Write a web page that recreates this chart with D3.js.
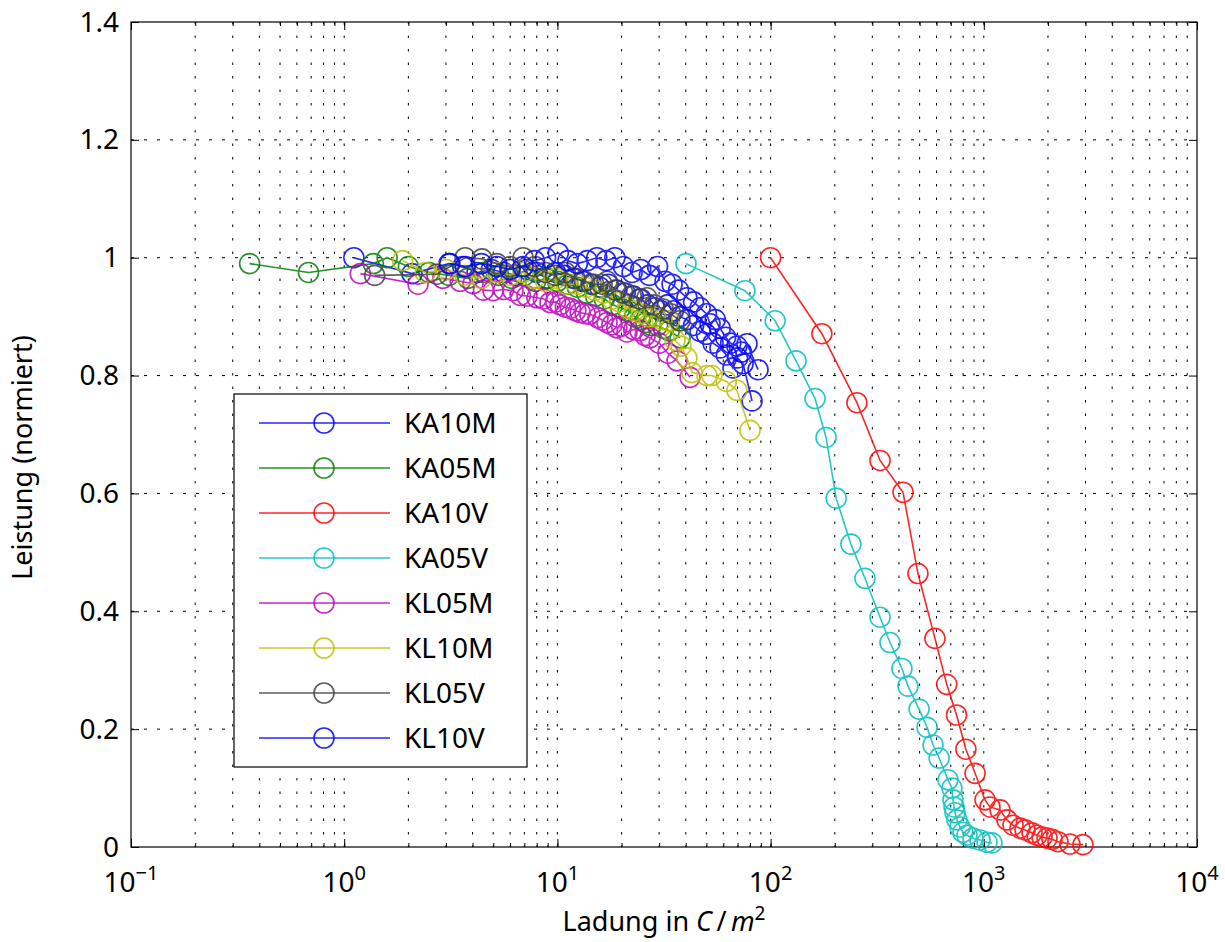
<!DOCTYPE html>
<html>
<head>
<meta charset="utf-8">
<script src="https://cdnjs.cloudflare.com/ajax/libs/d3/7.8.5/d3.min.js"></script>
<style>
    body { margin: 0; background: #fff; }
    text { font-family: "Noto Sans", sans-serif; fill: #000; }
</style>
</head>
<body>
<div id="chart"></div>
<script>
// series names and colours (legend order = draw order)
var names = ["KA10M", "KA05M", "KA10V", "KA05V", "KL05M", "KL10M", "KL05V", "KL10V"]
var colors = ["#0000ff", "#008000", "#ff0000", "#00bfbf", "#bf00bf", "#bfbf00", "#404040", "#0000ff"]

// [Ladung C/m^2, Leistung normiert]
var KA10M = [[1.11, 1.0], [2.08, 0.973], [3.1, 0.99], [3.6, 0.985], [4.2, 0.975], [4.9, 0.98], [5.6, 0.975], [6.4, 0.97],
    [7.2, 0.98], [8.0, 0.975], [8.9, 0.965], [9.8, 0.975], [10.8, 0.97], [11.9, 0.965], [13.1, 0.96], [14.4, 0.955],
    [15.8, 0.95], [17.3, 0.955], [19.0, 0.945], [20.8, 0.94], [22.7, 0.935], [24.6, 0.93], [26.5, 0.92], [28.5, 0.915],
    [30.6, 0.91], [32.8, 0.92], [35.0, 0.91], [37.5, 0.9], [40.5, 0.895], [43.5, 0.885], [46.7, 0.875], [50, 0.87],
    [53.7, 0.855], [57.9, 0.847], [62, 0.835], [66.6, 0.813], [70, 0.83], [74.3, 0.82], [81.8, 0.757]]
var KA05M = [[0.36, 0.99], [0.68, 0.975], [1.37, 0.99], [1.59, 1.0], [2.0, 0.985], [2.5, 0.975], [3.1, 0.97], [3.8, 0.965],
    [4.5, 0.975], [5.3, 0.97], [6.1, 0.965], [7.0, 0.97], [7.9, 0.96], [8.9, 0.965], [10.0, 0.96], [11.2, 0.955],
    [12.4, 0.95], [13.7, 0.94], [15.1, 0.935], [16.6, 0.93], [18.2, 0.92], [19.8, 0.915], [21.5, 0.91], [23.0, 0.9],
    [24.5, 0.895], [26, 0.89], [27.5, 0.885], [29.5, 0.885], [31.5, 0.88], [33.5, 0.876], [37.6, 0.864]]
var KA10V = [[100, 1.0], [174, 0.871], [254, 0.754], [326, 0.656], [418, 0.602], [491, 0.464], [590, 0.354], [670, 0.276],
    [745, 0.224], [824, 0.166], [910, 0.125], [1013, 0.08], [1069, 0.068], [1191, 0.063], [1285, 0.046], [1371, 0.037],
    [1479, 0.032], [1561, 0.029], [1683, 0.024], [1778, 0.02], [1876, 0.017], [1979, 0.015], [2089, 0.013], [2228, 0.009],
    [2535, 0.005], [2918, 0.004]]
var KA05V = [[40.1, 0.99], [75.8, 0.944], [105, 0.893], [131.6, 0.825], [161.6, 0.761], [182, 0.695], [203, 0.592], [238, 0.514],
    [277, 0.456], [326, 0.39], [363, 0.347], [413, 0.303], [441, 0.273], [497, 0.234], [542, 0.203], [578, 0.173],
    [617, 0.151], [679, 0.114], [709, 0.1], [717, 0.08], [725, 0.068], [733, 0.058], [749, 0.046], [773, 0.034],
    [798, 0.025], [834, 0.02], [889, 0.015], [960, 0.012], [1035, 0.008], [1092, 0.007]]
var KL05M = [[1.19, 0.973], [2.22, 0.955], [2.9, 0.965], [3.5, 0.96], [4.02, 0.956], [4.5, 0.945], [4.99, 0.944], [5.6, 0.946],
    [6.19, 0.944], [6.7, 0.936], [7.2, 0.935], [8.02, 0.932], [8.6, 0.93], [9.23, 0.924], [9.8, 0.925], [10.3, 0.92],
    [10.9, 0.916], [11.5, 0.914], [12.2, 0.91], [12.8, 0.907], [13.5, 0.905], [14.2, 0.904], [15.5, 0.898], [16.3, 0.894],
    [17.1, 0.89], [18, 0.886], [19, 0.881], [20, 0.884], [21.2, 0.874], [22.8, 0.878], [24.4, 0.876], [25.8, 0.868],
    [27.2, 0.864], [30, 0.855], [33, 0.838], [36.4, 0.825], [41.9, 0.797]]
var KL10M = [[1.88, 0.995], [2.4, 0.975], [3.0, 0.98], [3.7, 0.97], [4.4, 0.965], [5.2, 0.975], [6.0, 0.97], [6.9, 0.975],
    [7.8, 0.965], [8.8, 0.96], [9.9, 0.965], [11.0, 0.955], [12.3, 0.955], [13.6, 0.95], [15.0, 0.945], [16.5, 0.94],
    [18.0, 0.93], [19.6, 0.925], [21.3, 0.915], [23.0, 0.91], [24.8, 0.905], [26.7, 0.9], [28.8, 0.9], [31, 0.895],
    [33.5, 0.893], [35.6, 0.86], [38, 0.85], [40.5, 0.83], [42.8, 0.805], [50.3, 0.8], [53, 0.8], [62, 0.79],
    [69.5, 0.775], [80, 0.707]]
var KL05V = [[1.39, 0.97], [2.72, 0.972], [3.69, 1.0], [4.43, 0.998], [5.2, 0.99], [6.0, 0.985], [6.9, 1.0], [7.85, 0.985],
    [8.8, 0.975], [9.8, 0.97], [10.9, 0.975], [12.1, 0.965], [13.4, 0.96], [14.8, 0.955], [16.2, 0.955], [17.1, 0.96],
    [18.7, 0.945], [20.3, 0.94], [22.2, 0.935], [24.2, 0.93], [26.3, 0.932], [28.5, 0.92], [31.3, 0.913], [34, 0.905],
    [37.6, 0.893]]
var KL10V = [[3.13, 0.99], [3.7, 0.985], [4.4, 0.99], [5.2, 0.985], [6.0, 0.98], [6.9, 0.985], [7.8, 0.995], [8.8, 1.0],
    [10.1, 1.008], [11.2, 0.995], [12.4, 0.99], [13.8, 0.995], [15.3, 1.0], [16.9, 0.995], [18.6, 1.0], [20.4, 0.985],
    [22.4, 0.975], [24.6, 0.98], [27, 0.97], [29.5, 0.985], [32, 0.96], [34.5, 0.955], [37, 0.945], [40.5, 0.932],
    [43.5, 0.925], [46.7, 0.915], [50, 0.905], [52, 0.888], [55, 0.895], [58, 0.88], [61.5, 0.865], [65, 0.855],
    [69.5, 0.85], [73, 0.84], [77.5, 0.854], [87.3, 0.81]]

var allSeries = [KA10M, KA05M, KA10V, KA05V, KL05M, KL10M, KL05V, KL10V]

// axis ticks
var yTicks = [0, 0.2, 0.4, 0.6, 0.8, 1, 1.2, 1.4]
var yTickLabels = ["0", "0.2", "0.4", "0.6", "0.8", "1", "1.2", "1.4"]
var xExponents = [-1, 0, 1, 2, 3, 4]
var xExponentLabels = ["\u22121", "0", "1", "2", "3", "4"]

// set the dimensions and margins of the graph
var margin = { top: 22, right: 28, bottom: 95, left: 131 }
var width = 1225 - margin.left - margin.right
var height = 942 - margin.top - margin.bottom

var svg = d3.select("#chart")
    .append("svg")
    .attr("width", 1225)
    .attr("height", 942)
    .append("g")
    .attr("transform", "translate(" + margin.left + "," + margin.top + ")")

var x = d3.scaleLog().domain([0.1, 10000]).range([0, width])
var y = d3.scaleLinear().domain([0, 1.4]).range([height, 0])

var allX = x.ticks()
var majorX = xExponents.map(function (e) { return Math.pow(10, e) })

// dotted grid
svg.append("g")
    .selectAll("line")
    .data(allX.filter(function (d) { return d > 0.1 && d < 10000 }))
    .enter()
    .append("line")
    .attr("x1", function (d) { return x(d) })
    .attr("x2", function (d) { return x(d) })
    .attr("y1", 0)
    .attr("y2", height)
    .attr("stroke", "#000")
    .attr("stroke-width", 1)
    .attr("stroke-dasharray", "2.5,11")

svg.append("g")
    .selectAll("line")
    .data(yTicks.filter(function (d) { return d > 0 && d < 1.4 }))
    .enter()
    .append("line")
    .attr("x1", 0)
    .attr("x2", width)
    .attr("y1", function (d) { return y(d) })
    .attr("y2", function (d) { return y(d) })
    .attr("stroke", "#000")
    .attr("stroke-width", 1)
    .attr("stroke-dasharray", "3,10")

// inward ticks on all four sides
function noDomain(g) { g.select(".domain").remove(); g.selectAll("text").remove() }
svg.append("g").attr("transform", "translate(0," + height + ")")
    .call(d3.axisBottom(x).tickValues(allX).tickSize(-4).tickFormat("")).call(noDomain)
svg.append("g").attr("transform", "translate(0," + height + ")")
    .call(d3.axisBottom(x).tickValues(majorX).tickSize(-8).tickFormat("")).call(noDomain)
svg.append("g")
    .call(d3.axisTop(x).tickValues(allX).tickSize(-4).tickFormat("")).call(noDomain)
svg.append("g")
    .call(d3.axisTop(x).tickValues(majorX).tickSize(-8).tickFormat("")).call(noDomain)
svg.append("g")
    .call(d3.axisLeft(y).tickValues(yTicks).tickSize(-8).tickFormat("")).call(noDomain)
svg.append("g").attr("transform", "translate(" + width + ",0)")
    .call(d3.axisRight(y).tickValues(yTicks).tickSize(-8).tickFormat("")).call(noDomain)

// plot box
svg.append("rect")
    .attr("width", width)
    .attr("height", height)
    .attr("fill", "none")
    .attr("stroke", "#000")
    .attr("stroke-width", 1.2)

// y tick labels
svg.append("g")
    .selectAll("text")
    .data(yTicks)
    .enter()
    .append("text")
    .attr("x", -12)
    .attr("y", function (d) { return y(d) })
    .attr("dy", "0.34em")
    .style("text-anchor", "end")
    .style("font-size", "28px")
    .text(function (d, i) { return yTickLabels[i] })

// x tick labels 10^n
var xl = svg.append("g")
    .selectAll("text")
    .data(xExponents)
    .enter()
    .append("text")
    .attr("x", function (d) { return x(Math.pow(10, d)) })
    .attr("y", height + 45)
    .style("text-anchor", "middle")
    .style("font-size", "28px")
xl.append("tspan").text("10")
xl.append("tspan")
    .attr("dy", -12)
    .style("font-size", "20px")
    .text(function (d, i) { return xExponentLabels[i] })

// axis titles
var xt = svg.append("text")
    .attr("x", width / 2)
    .attr("y", height + 84)
    .style("text-anchor", "middle")
    .style("font-size", "27px")
xt.append("tspan").text("Ladung in ")
xt.append("tspan").style("font-style", "italic").text("C")
xt.append("tspan").text("\u2009/\u2009")
xt.append("tspan").style("font-style", "italic").text("m")
xt.append("tspan").attr("dy", -11).style("font-size", "19px").text("2")

svg.append("text")
    .attr("transform", "translate(" + (-99) + "," + (height / 2 + 23) + ") rotate(-90)")
    .style("text-anchor", "middle")
    .style("font-size", "27px")
    .text("Leistung (normiert)")

// the series: line then open circle markers
var line = d3.line()
    .x(function (d) { return x(d[0]) })
    .y(function (d) { return y(d[1]) })

allSeries.forEach(function (s, i) {
    var g = svg.append("g").attr("opacity", 0.85)
    g.append("path")
        .datum(s)
        .attr("d", line)
        .attr("fill", "none")
        .attr("stroke", colors[i])
        .attr("stroke-width", 1.6)
    g.selectAll("circle")
        .data(s)
        .enter()
        .append("circle")
        .attr("cx", function (d) { return x(d[0]) })
        .attr("cy", function (d) { return y(d[1]) })
        .attr("r", 10)
        .attr("fill", "none")
        .attr("stroke", colors[i])
        .attr("stroke-width", 1.6)
})

// legend
var lg = svg.append("g").attr("transform", "translate(" + (234 - margin.left) + "," + (394 - margin.top) + ")")
lg.append("rect")
    .attr("width", 293)
    .attr("height", 373)
    .attr("fill", "#fff")
    .attr("stroke", "#000")
    .attr("stroke-width", 1.2)
var items = lg.selectAll(".item")
    .data(names)
    .enter()
    .append("g")
    .attr("transform", function (d, i) { return "translate(0," + (29 + i * 45) + ")" })
items.append("line")
    .attr("x1", 25)
    .attr("x2", 156)
    .attr("stroke", function (d, i) { return colors[i] })
    .attr("stroke-width", 1.6)
    .attr("opacity", 0.85)
items.append("circle")
    .attr("cx", 90)
    .attr("r", 10)
    .attr("fill", "none")
    .attr("stroke", function (d, i) { return colors[i] })
    .attr("stroke-width", 1.6)
    .attr("opacity", 0.85)
items.append("text")
    .attr("x", 170)
    .attr("dy", "0.36em")
    .style("font-size", "28px")
    .text(function (d) { return d })
</script>
</body>
</html>
